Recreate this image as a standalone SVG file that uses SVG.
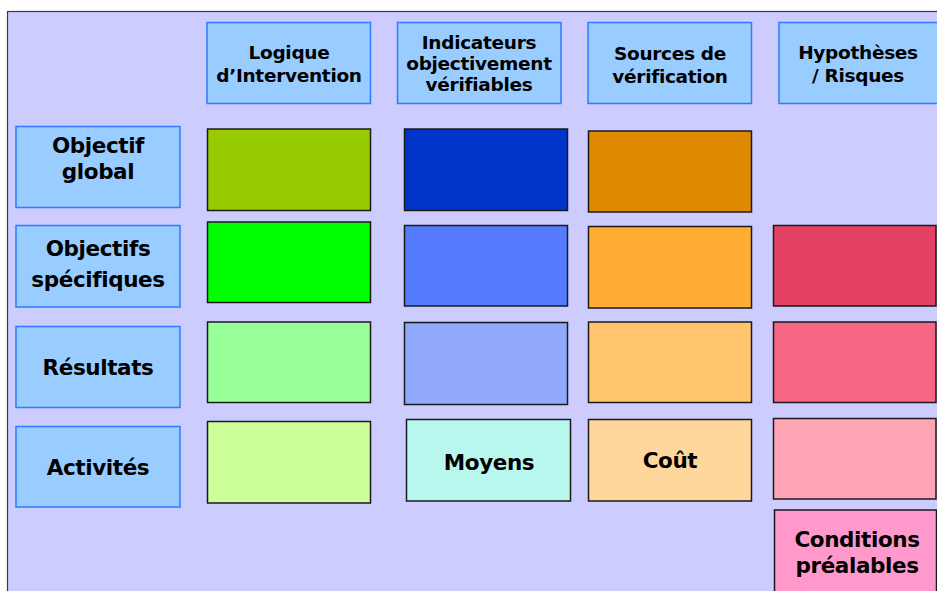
<svg xmlns="http://www.w3.org/2000/svg" width="937" height="591" viewBox="0 0 937 591">
<style>
.hd{fill:#99CCFF;stroke:#2E7BFF;stroke-width:1.5}
.c{stroke:#1a1a1a;stroke-width:1.5}
text{font-family:"DejaVu Sans","Liberation Sans",sans-serif;font-weight:bold;fill:#000;text-anchor:middle}
.h{font-size:18.5px;letter-spacing:-0.3px}
.r{font-size:21.5px;letter-spacing:-0.4px}
</style>
<rect x="0" y="0" width="937" height="591" fill="#FFFFFF"/>
<rect x="7.5" y="11.5" width="940" height="590" fill="#CCCCFF" stroke="#3a3a3a" stroke-width="1.2"/>
<g id="connectors"/>
<g id="h-logique"><rect class="hd" x="207" y="22.5" width="163.5" height="81"/><text class="h" x="289" y="59">Logique</text><text class="h" x="289" y="82">d’Intervention</text></g>
<g id="h-indicateurs"><rect class="hd" x="397.5" y="22.5" width="163.5" height="81"/><text class="h" x="479" y="49">Indicateurs</text><text class="h" x="479" y="70">objectivement</text><text class="h" x="479" y="91">vérifiables</text></g>
<g id="h-sources"><rect class="hd" x="588" y="22.5" width="163.5" height="81"/><text class="h" x="670" y="60">Sources de</text><text class="h" x="670" y="83">vérification</text></g>
<g id="h-hypotheses"><rect class="hd" x="779" y="22.5" width="170" height="81"/><text class="h" x="858" y="59">Hypothèses</text><text class="h" x="858" y="82">/ Risques</text></g>
<g id="r-objectif-global"><rect class="hd" x="16" y="126.5" width="164" height="81"/><text class="r" x="98" y="153">Objectif</text><text class="r" x="98" y="179">global</text></g>
<g id="r-objectifs-specifiques"><rect class="hd" x="16" y="225.5" width="164" height="81.5"/><text class="r" x="98" y="256">Objectifs</text><text class="r" x="98" y="287">spécifiques</text></g>
<g id="r-resultats"><rect class="hd" x="16" y="326.5" width="164" height="81"/><text class="r" x="98" y="375">Résultats</text></g>
<g id="r-activites"><rect class="hd" x="16" y="426.5" width="164" height="80.5"/><text class="r" x="98" y="475">Activités</text></g>
<g id="c11"><rect class="c" x="207.5" y="129" width="163" height="81.5" fill="#99CC00"/></g>
<g id="c21"><rect class="c" x="207.5" y="222" width="163" height="80.5" fill="#00FF00"/></g>
<g id="c31"><rect class="c" x="207.5" y="322" width="163" height="80.5" fill="#99FF99"/></g>
<g id="c41"><rect class="c" x="207.5" y="421.5" width="163" height="81.5" fill="#CCFF99"/></g>
<g id="c12"><rect class="c" x="404.5" y="129" width="163" height="81.5" fill="#0033C8"/></g>
<g id="c22"><rect class="c" x="404.5" y="225.5" width="163" height="80.5" fill="#537BFB"/></g>
<g id="c32"><rect class="c" x="404.5" y="322.5" width="163" height="82" fill="#91A9FC"/></g>
<g id="moyens"><rect class="c" x="406.5" y="419.5" width="164" height="81.5" fill="#B8F7EE"/><text class="r" x="489" y="470">Moyens</text></g>
<g id="c13"><rect class="c" x="588.5" y="131" width="163" height="81" fill="#E08A00"/></g>
<g id="c23"><rect class="c" x="588.5" y="226.5" width="163" height="81.5" fill="#FFAD33"/></g>
<g id="c33"><rect class="c" x="588.5" y="322" width="163" height="80.5" fill="#FFC46C"/></g>
<g id="cout"><rect class="c" x="588.5" y="419.5" width="163" height="81.5" fill="#FFD69C"/><text class="r" x="670" y="468">Coût</text></g>
<g id="c24"><rect class="c" x="773.5" y="225.5" width="162.5" height="80.5" fill="#E44262"/></g>
<g id="c34"><rect class="c" x="773.5" y="322" width="162.5" height="80.5" fill="#F76684"/></g>
<g id="c44"><rect class="c" x="773.5" y="418.5" width="162.5" height="80.5" fill="#FFA4B4"/></g>
<g id="conditions"><rect class="c" x="774.5" y="510" width="162" height="95" fill="#FF99CC"/><text class="r" x="857" y="547">Conditions</text><text class="r" x="857" y="573">préalables</text></g>
</svg>
